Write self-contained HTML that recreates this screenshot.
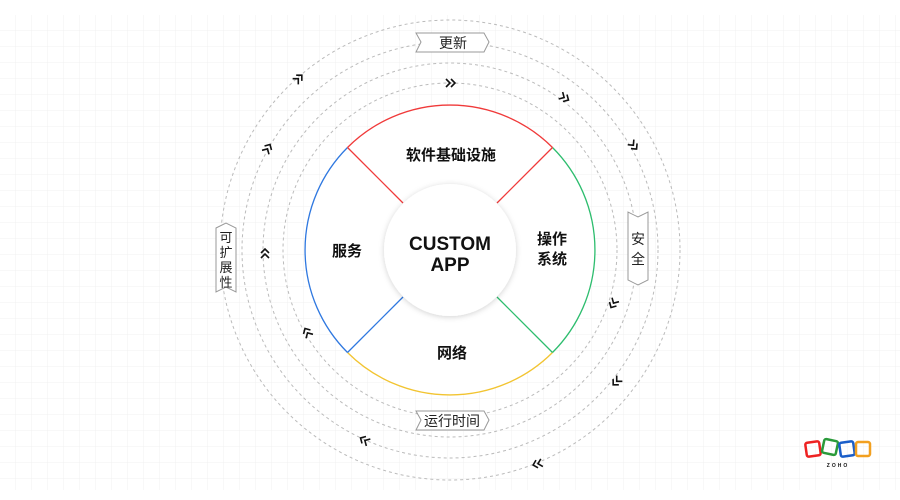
<!DOCTYPE html>
<html><head><meta charset="utf-8"><style>
html,body{margin:0;padding:0;background:#fff}
svg{display:block}
text{font-family:"Liberation Sans","Noto Sans CJK SC",sans-serif}
</style></head><body>
<svg width="900" height="500" viewBox="0 0 900 500" xmlns="http://www.w3.org/2000/svg">
<defs>
<pattern id="g" x="0" y="15" width="16" height="16" patternUnits="userSpaceOnUse">
<path d="M16 0V16M0 16H16" fill="none" stroke="#f0f0f0" stroke-width="1"/>
</pattern>
<filter id="sh" x="-30%" y="-30%" width="160%" height="160%"><feDropShadow dx="0" dy="1" stdDeviation="3" flood-color="#000" flood-opacity="0.18"/></filter>
<g id="cv"><path d="M-5 -4L-1 0L-5 4M0 -4L4 0L0 4" fill="none" stroke="#111" stroke-width="1.6"/></g>
</defs>
<rect x="0" y="15" width="900" height="475" fill="url(#g)"/>
<g fill="none" stroke="#bbb" stroke-width="1" stroke-dasharray="3,3">
<circle cx="450" cy="250" r="230"/>
<circle cx="450" cy="250" r="208"/>
<circle cx="450" cy="250" r="187"/>
<circle cx="450" cy="250" r="167"/>
</g>
<circle cx="450" cy="250" r="145" fill="#fff"/>
<g fill="none" stroke-width="1.3">
<path d="M347.5 147.5 A145 145 0 0 1 552.5 147.5" stroke="#f03a3a"/>
<path d="M552.5 147.5 A145 145 0 0 1 552.5 352.5" stroke="#2dbd6e"/>
<path d="M552.5 352.5 A145 145 0 0 1 347.5 352.5" stroke="#f2c431"/>
<path d="M347.5 352.5 A145 145 0 0 1 347.5 147.5" stroke="#2f78e0"/>
<line x1="347.5" y1="147.5" x2="403" y2="203" stroke="#f03a3a"/>
<line x1="552.5" y1="147.5" x2="497" y2="203" stroke="#f03a3a"/>
<line x1="552.5" y1="352.5" x2="497" y2="297" stroke="#2dbd6e"/>
<line x1="347.5" y1="352.5" x2="403" y2="297" stroke="#2f78e0"/>
</g>
<circle cx="450" cy="250" r="66" fill="#fff" filter="url(#sh)"/>
<text x="450" y="250" font-size="19" font-weight="bold" text-anchor="middle" fill="#111">CUSTOM</text>
<text x="450" y="271" font-size="19" font-weight="bold" text-anchor="middle" fill="#111">APP</text>
<g font-size="15" font-weight="bold" fill="#111" text-anchor="middle">
<text x="451" y="160">软件基础设施</text>
<text x="347" y="256">服务</text>
<text x="552" y="244">操作</text>
<text x="552" y="264">系统</text>
<text x="452" y="358">网络</text>
</g>
<path d="M416 33H484L489 42L484 52H416L421 42Z" fill="#fff" stroke="#999"/>
<text x="453" y="48" font-size="14" text-anchor="middle" fill="#222">更新</text>
<path d="M416 411H484L489 420L484 430H416L421 420Z" fill="#fff" stroke="#999"/>
<text x="452" y="426" font-size="14" text-anchor="middle" fill="#222">运行时间</text>
<path d="M628 212V280L638 285L648 280V212L638 217Z" fill="#fff" stroke="#999"/>
<text x="638" y="244" font-size="14" text-anchor="middle" fill="#222">安</text>
<text x="638" y="264" font-size="14" text-anchor="middle" fill="#222">全</text>
<path d="M216 228L226 223L236 228V292L226 287L216 292Z" fill="#fff" stroke="#999"/>
<g font-size="13" text-anchor="middle" fill="#222">
<text x="226" y="242">可</text><text x="226" y="257">扩</text><text x="226" y="272">展</text><text x="226" y="287">性</text>
</g>
<use href="#cv" transform="translate(451 83)"/>
<use href="#cv" transform="translate(565 98) rotate(30)"/>
<use href="#cv" transform="translate(634 146) rotate(50)"/>
<use href="#cv" transform="translate(299 78) rotate(-45)"/>
<use href="#cv" transform="translate(268 148) rotate(-60)"/>
<use href="#cv" transform="translate(265 253) rotate(-90)"/>
<use href="#cv" transform="translate(307 332) rotate(-120)"/>
<use href="#cv" transform="translate(613 304) rotate(120)"/>
<use href="#cv" transform="translate(616 382) rotate(135)"/>
<use href="#cv" transform="translate(364 440) rotate(-150)"/>
<use href="#cv" transform="translate(537 464) rotate(165)"/>
<g fill="none" stroke-width="2.5">
<rect x="806" y="442" width="14" height="14" rx="2" stroke="#e22" transform="rotate(-8 813 449)"/>
<rect x="823" y="440" width="14" height="14" rx="2" stroke="#2a9a3a" transform="rotate(12 830 447)"/>
<rect x="840" y="442" width="14" height="14" rx="2" stroke="#1a5ec9" transform="rotate(-8 847 449)"/>
<rect x="856" y="442" width="14" height="14" rx="2" stroke="#f2a020"/>
</g>
<text x="838" y="467" font-size="5" font-weight="bold" text-anchor="middle" fill="#111" letter-spacing="2">ZOHO</text>
</svg>
</body></html>
